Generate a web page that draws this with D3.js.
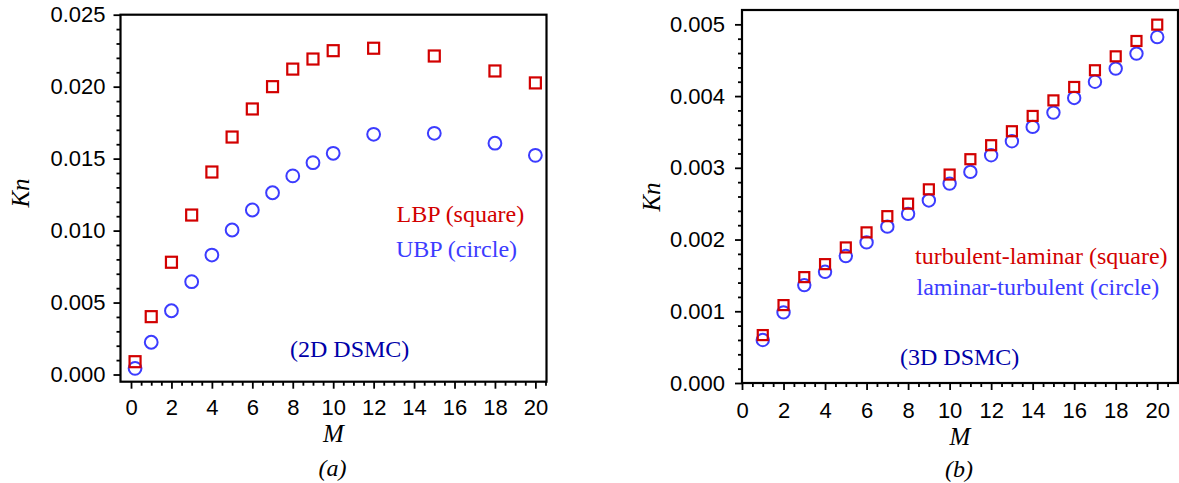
<!DOCTYPE html>
<html>
<head>
<meta charset="utf-8">
<script src="https://cdn.jsdelivr.net/npm/d3@7"></script>
<style>
  html, body { margin: 0; padding: 0; background: #fff; }
  svg { display: block; }
</style>
</head>
<body>
<svg id="chart" width="1179" height="483"></svg>
<script>
// ---------- data: panel (a) 2D DSMC ----------
const leftM   = [0.2, 1, 2, 3, 4, 5, 6, 7, 8, 9, 10, 12, 15, 18, 20];
const lbpKn   = [0.00089, 0.00402, 0.00780, 0.01108, 0.01407, 0.01650, 0.01845, 0.02000, 0.02122, 0.02192, 0.02250, 0.02267, 0.02213, 0.02109, 0.02026];
const ubpKn   = [0.00043, 0.00224, 0.00443, 0.00645, 0.00830, 0.01004, 0.01143, 0.01263, 0.01380, 0.01472, 0.01537, 0.01669, 0.01676, 0.01607, 0.01523];

// ---------- data: panel (b) 3D DSMC ----------
const rightM      = [1, 2, 3, 4, 5, 6, 7, 8, 9, 10, 11, 12, 13, 14, 15, 16, 17, 18, 19, 20];
const turbLamKn   = [0.000668, 0.001086, 0.001476, 0.001657, 0.001890, 0.002100, 0.002326, 0.002500, 0.002700, 0.002906, 0.003120, 0.003315, 0.003510, 0.003723, 0.003940, 0.004127, 0.004360, 0.004554, 0.004768, 0.004996];
const lamTurbKn   = [0.000599, 0.000984, 0.001365, 0.001550, 0.001770, 0.001960, 0.002180, 0.002358, 0.002545, 0.002780, 0.002943, 0.003175, 0.003370, 0.003570, 0.003770, 0.003974, 0.004200, 0.004383, 0.004592, 0.004823];

// ---------- tick labels ----------
const xTicks       = [0, 2, 4, 6, 8, 10, 12, 14, 16, 18, 20];
const xMinorTicks  = [0.5, 1, 1.5, 2.5, 3, 3.5, 4.5, 5, 5.5, 6.5, 7, 7.5, 8.5, 9, 9.5, 10.5, 11, 11.5, 12.5, 13, 13.5, 14.5, 15, 15.5, 16.5, 17, 17.5, 18.5, 19, 19.5, 20.5];
const leftYTicks   = [0, 0.005, 0.010, 0.015, 0.020, 0.025];
const leftYMinor   = [0.001, 0.002, 0.003, 0.004, 0.006, 0.007, 0.008, 0.009, 0.011, 0.012, 0.013, 0.014, 0.016, 0.017, 0.018, 0.019, 0.021, 0.022, 0.023, 0.024];
const rightYTicks  = [0, 0.001, 0.002, 0.003, 0.004, 0.005];
const rightYMinor  = [0.0002, 0.0004, 0.0006, 0.0008, 0.0012, 0.0014, 0.0016, 0.0018, 0.0022, 0.0024, 0.0026, 0.0028, 0.0032, 0.0034, 0.0036, 0.0038, 0.0042, 0.0044, 0.0046, 0.0048];

const RED = "#d20000", BLUE = "#3c3cff", NAVY = "#0000a8";
const SANS = "'Liberation Sans', Arial, sans-serif";
const SERIF = "'Liberation Serif', 'Times New Roman', serif";

const svg = d3.select("#chart");

function panel(cfg) {
  const g = svg.append("g");
  const x = d3.scaleLinear().domain(cfg.xDomain).range(cfg.xRange);
  const y = d3.scaleLinear().domain(cfg.yDomain).range(cfg.yRange);
  const fmt = d3.format(".3f");

  // minor ticks
  g.append("g").attr("transform", `translate(0,${cfg.yRange[0]})`)
    .call(d3.axisBottom(x).tickValues(xMinorTicks.filter(v => v <= cfg.xDomain[1])).tickSize(4).tickFormat("").tickSizeOuter(0))
    .call(s => s.select(".domain").remove());
  g.append("g").attr("transform", `translate(${cfg.xRange[0]},0)`)
    .call(d3.axisLeft(y).tickValues(cfg.yMinor).tickSize(4).tickFormat("").tickSizeOuter(0))
    .call(s => s.select(".domain").remove());

  // major axes
  const gx = g.append("g").attr("transform", `translate(0,${cfg.yRange[0]})`)
    .call(d3.axisBottom(x).tickValues(xTicks).tickSize(7).tickPadding(cfg.xPad).tickSizeOuter(0));
  const gy = g.append("g").attr("transform", `translate(${cfg.xRange[0]},0)`)
    .call(d3.axisLeft(y).tickValues(cfg.yTicks).tickSize(7).tickPadding(cfg.yPad).tickFormat(fmt).tickSizeOuter(0));
  [gx, gy].forEach(a => {
    a.selectAll("text").attr("font-family", SANS).attr("font-size", 22).attr("fill", "#000");
    a.select(".domain").remove();
  });
  g.selectAll(".tick line").attr("stroke", "#000").attr("stroke-width", 1.8);

  // frame
  g.append("rect")
    .attr("x", cfg.xRange[0]).attr("y", cfg.yRange[1])
    .attr("width", cfg.xRange[1] - cfg.xRange[0]).attr("height", cfg.yRange[0] - cfg.yRange[1])
    .attr("fill", "none").attr("stroke", "#000").attr("stroke-width", 2.2);

  // circles first, squares on top
  g.append("g").selectAll("circle").data(cfg.m.map((m, i) => [m, cfg.circ[i]])).join("circle")
    .attr("cx", d => x(d[0])).attr("cy", d => y(d[1])).attr("r", cfg.r)
    .attr("fill", "none").attr("stroke", BLUE).attr("stroke-width", 2);
  g.append("g").selectAll("rect").data(cfg.m.map((m, i) => [m, cfg.sq[i]])).join("rect")
    .attr("x", d => x(d[0]) - cfg.s / 2).attr("y", d => y(d[1]) - cfg.s / 2)
    .attr("width", cfg.s).attr("height", cfg.s)
    .attr("fill", "none").attr("stroke", RED).attr("stroke-width", 2.2);

  // axis titles
  g.append("text").attr("transform", `translate(${cfg.knX},${cfg.knY}) rotate(-90)`)
    .attr("text-anchor", "middle").attr("dy", "0.35em")
    .attr("font-family", SERIF).attr("font-style", "italic").attr("font-size", 25).text("Kn");
  const cx = (cfg.xRange[0] + cfg.xRange[1]) / 2;
  g.append("text").attr("x", cx).attr("y", cfg.mY).attr("text-anchor", "middle")
    .attr("font-family", SERIF).attr("font-style", "italic").attr("font-size", 25).text("M");
  g.append("text").attr("x", cx - 1).attr("y", cfg.capY).attr("text-anchor", "middle")
    .attr("font-family", SERIF).attr("font-style", "italic").attr("font-size", 24).text(cfg.caption);

  // legend texts
  cfg.notes.forEach(n => {
    g.append("text").attr("x", n.x).attr("y", n.y).attr("fill", n.c)
      .attr("font-family", SERIF).attr("font-size", 24).text(n.t);
  });
}

panel({
  xDomain: [-0.52, 20.55], xRange: [120.5, 546.5],
  yDomain: [-0.0005, 0.025], yRange: [381.7, 14.7],
  yTicks: leftYTicks, yMinor: leftYMinor,
  xPad: 11, yPad: 8,
  m: leftM, sq: lbpKn, circ: ubpKn, s: 11, r: 6.4,
  knX: 20, knY: 193, mY: 441.5, capY: 476, caption: "(a)",
  notes: [
    { t: "LBP (square)", x: 396.5, y: 221.5, c: RED },
    { t: "UBP (circle)", x: 396, y: 256.5, c: BLUE },
    { t: "(2D DSMC)", x: 290, y: 357, c: NAVY }
  ]
});

panel({
  xDomain: [0, 21], xRange: [742, 1178],
  yDomain: [0, 0.0052], yRange: [383, 10],
  yTicks: rightYTicks, yMinor: rightYMinor,
  xPad: 12, yPad: 10,
  m: rightM, sq: turbLamKn, circ: lamTurbKn, s: 10, r: 6.2,
  knX: 651, knY: 197, mY: 445, capY: 477, caption: "(b)",
  notes: [
    { t: "turbulent-laminar (square)", x: 915, y: 263.5, c: RED },
    { t: "laminar-turbulent (circle)", x: 916.5, y: 295, c: BLUE },
    { t: "(3D DSMC)", x: 900, y: 364.5, c: NAVY }
  ]
});
</script>
</body>
</html>
